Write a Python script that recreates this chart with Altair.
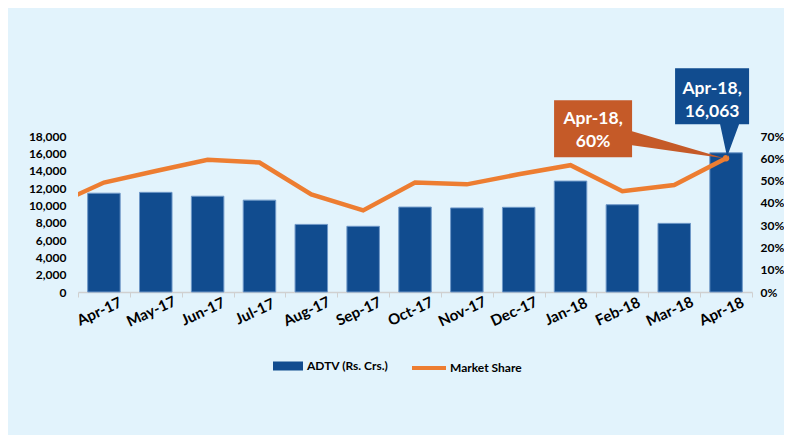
import altair as alt
import pandas as pd

months = ["Apr-17", "May-17", "Jun-17", "Jul-17", "Aug-17", "Sep-17", "Oct-17",
          "Nov-17", "Dec-17", "Jan-18", "Feb-18", "Mar-18", "Apr-18"]
adtv = [11400, 11500, 11050, 10600, 7800, 7580, 9800, 9700, 9770, 12800, 10070, 7920, 16063]
share = [49.1, 54.3, 59.3, 58.1, 43.8, 36.6, 49.1, 48.3, 52.8, 56.9, 45.2, 48.0, 60]
prev_month = "Mar-17"
prev_share = 38.5
y_ticks = list(range(0, 18001, 2000))
pct_ticks = list(range(0, 71, 10))

BAR_NAME = "ADTV (Rs. Crs.)"
LINE_NAME = "Market Share"
BLUE = "#114C8F"
ORANGE = "#ED7D31"
RUST = "#C55A28"
BG = "#E2F3FC"
FONT = "Lato"

bars_df = pd.DataFrame({"idx": list(range(len(months))), "month": months,
                        "adtv": adtv, "series": BAR_NAME})
line_df = pd.DataFrame({"idx": [-1] + list(range(len(months))),
                        "month": [prev_month] + months,
                        "share": [prev_share] + share, "series": LINE_NAME})
last = pd.DataFrame({"idx": [len(months) - 1], "share": [share[-1]],
                     "blue_text": [f"{months[-1]},\n{adtv[-1]:,}"],
                     "orange_text": [f"{months[-1]},\n{share[-1]:g}%"]})

xscale = alt.Scale(domain=[-0.5, len(months) - 0.5], nice=False, zero=False, padding=0)
label_expr = "[" + ",".join(f"'{m}'" for m in months) + "][datum.value]"

x_tick_axis = alt.Axis(values=[i - 0.5 for i in range(len(months) + 1)], labels=False,
                       ticks=True, tickSize=5, tickColor="#D0D0D0", domain=True,
                       domainColor="#D0D0D0", domainWidth=1.5, grid=False, title=None,
                       orient="bottom")
x_label_axis = alt.Axis(values=list(range(len(months))), labelExpr=label_expr, ticks=False,
                        domain=False, grid=False, title=None, labelAngle=-25, orient="bottom",
                        labelAlign="center", labelBaseline="middle", labelPadding=19,
                        labelOffset=-5,
                        labelFontSize=15, labelFontWeight="bold", labelColor="#000000",
                        labelOverlap=False, labelFlush=False, labelBound=False)

pct_scale = alt.Scale(domain=[0, 70], nice=False, padding=0)
pct_axis = alt.Axis(values=pct_ticks, labelExpr="datum.value + '%'", grid=False,
                    domain=False, ticks=False, labelPadding=8, labelAlign="left",
                    labelOverlap=False, labelBound=False,
                    labelFontSize=12, labelFontWeight="bold", labelColor="#000000",
                    title=None, orient="right")

X_LAB = alt.X("idx:Q", scale=xscale, axis=x_label_axis)
Y_PCT = alt.Y("share:Q", scale=pct_scale, axis=pct_axis)

bars = alt.Chart(bars_df).mark_bar(size=32.5, stroke="#6F98C8", strokeWidth=1).encode(
    x=alt.X("idx:Q", scale=xscale, axis=x_tick_axis),
    y=alt.Y("adtv:Q", scale=alt.Scale(domain=[0, 18000], nice=False, padding=0),
            axis=alt.Axis(values=y_ticks, labelExpr="format(datum.value, ',')", grid=False,
                          domain=False, ticks=False, labelOverlap=False,
                          labelPadding=12, labelFontSize=12, labelFontWeight="bold",
                          labelColor="#000000", title=None, orient="left")),
    color=alt.Color("series:N", scale=alt.Scale(domain=[BAR_NAME], range=[BLUE]),
                    legend=alt.Legend(title=None, orient="none", legendX=195, legendY=215,
                                      symbolType="M-1,-0.3H1V0.3H-1Z", symbolSize=900,
                                      symbolStrokeWidth=0, labelOffset=4, padding=0,
                                      labelFontSize=12, labelFontWeight="bold",
                                      labelColor="#000000")),
)

line = alt.Chart(line_df).mark_line(strokeWidth=4.5, clip=True).encode(
    x=X_LAB,
    y=Y_PCT,
    stroke=alt.Stroke("series:N", scale=alt.Scale(domain=[LINE_NAME], range=[ORANGE]),
                      legend=alt.Legend(title=None, orient="none", legendX=332, legendY=213,
                                        symbolType="stroke", symbolSize=1156,
                                        symbolStrokeWidth=4, labelOffset=2, padding=0,
                                        labelFontSize=12, labelFontWeight="bold",
                                        labelColor="#000000")),
)

orange_path = "M-172,-58H-94V-27L-2,0L-94,-13V-1H-172Z"
blue_path = "M-51,-90H23V-34H13L1,-1.5L-6,-34H-51Z"

orange_box = alt.Chart(last).mark_point(shape=orange_path, size=4, filled=True, fill=RUST,
                                        opacity=1, strokeWidth=0).encode(x=X_LAB, y=Y_PCT)
blue_box = alt.Chart(last).mark_point(shape=blue_path, size=4, filled=True, fill=BLUE,
                                      opacity=1, strokeWidth=0).encode(x=X_LAB, y=Y_PCT)
marker = alt.Chart(last).mark_point(shape="circle", size=40, filled=True, fill=ORANGE,
                                    opacity=1, strokeWidth=0).encode(x=X_LAB, y=Y_PCT)
orange_text = alt.Chart(last).mark_text(font=FONT, fontSize=17.5, fontWeight="bold", color="white",
                                        lineBreak="\n", lineHeight=23, dx=-133, dy=-39.5,
                                        align="center", baseline="middle").encode(
    text="orange_text:N", x=X_LAB, y=Y_PCT)
blue_text = alt.Chart(last).mark_text(font=FONT, fontSize=17.5, fontWeight="bold", color="white",
                                      lineBreak="\n", lineHeight=23, dx=-14, dy=-69.5,
                                      align="center", baseline="middle").encode(
    text="blue_text:N", x=X_LAB, y=Y_PCT)

line_group = alt.layer(line, marker, orange_box, blue_box, orange_text, blue_text)

chart = alt.layer(bars, line_group).resolve_scale(
    y="independent", color="independent"
).resolve_axis(x="independent").properties(
    width=674, height=156,
    autosize=alt.AutoSizeParams(type="none"),
    padding={"left": 70, "top": 128, "right": 32, "bottom": 143},
    background=BG,
).configure(font=FONT).configure_view(stroke=None)

chart.save("out.html", embed_options={"renderer": "svg", "actions": False})
